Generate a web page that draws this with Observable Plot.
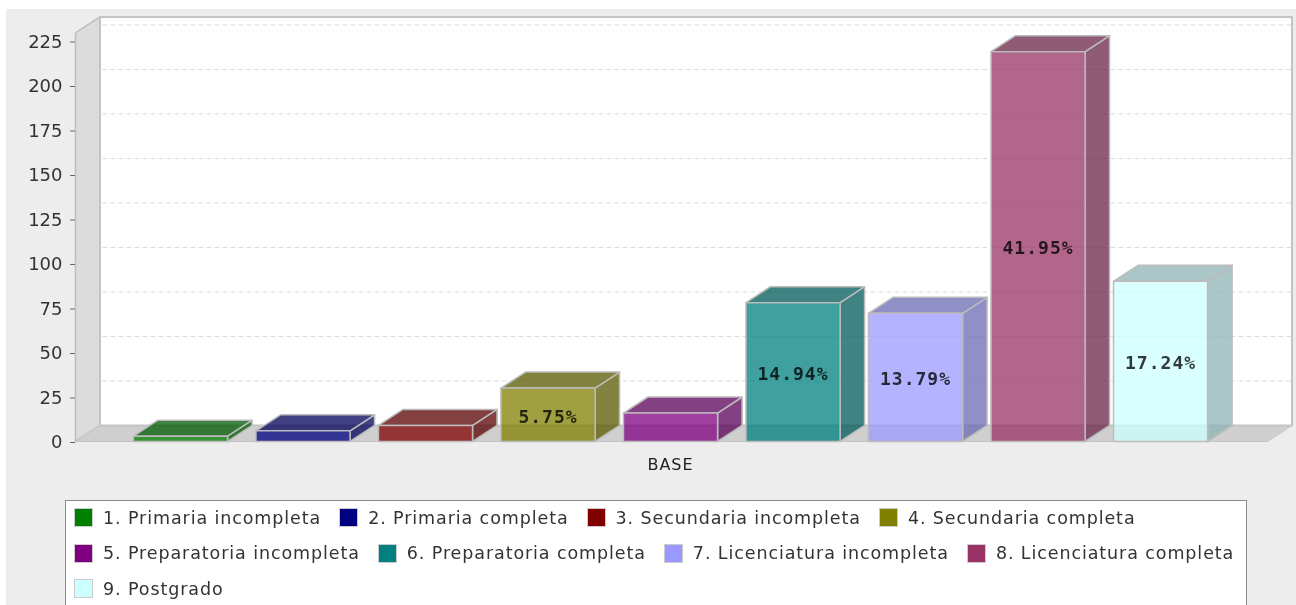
<!DOCTYPE html>
<html>
<head>
<meta charset="utf-8">
<script src="https://cdn.jsdelivr.net/npm/d3@7"></script>
<script src="https://cdn.jsdelivr.net/npm/@observablehq/plot@0.6"></script>
<style>
  html, body { margin: 0; padding: 0; background: #fff; width: 1296px; height: 605px; overflow: hidden; }
  #panel { position: absolute; left: 6px; top: 9px; width: 1290px; height: 596px; background: #ededed; }
  #chart { position: absolute; left: 0; top: 0; filter: blur(0.4px); }
  #legend {
    position: absolute; left: 65px; top: 500px; width: 1182px; height: 130px; box-sizing: border-box;
    background: #fff; border: 1.5px solid #8a8a8a; padding: 7px 0 0 8px;
    display: flex; flex-wrap: wrap; align-content: flex-start; row-gap: 16.5px; column-gap: 18px;
    font: 17.5px "DejaVu Sans", sans-serif; letter-spacing: 0.9px; color: #333; filter: blur(0.4px);
  }
  .item { display: flex; align-items: center; height: 19px; white-space: nowrap; }
  .sw { width: 19px; height: 19px; margin-right: 10px; border: .5px solid #ccc; box-sizing: border-box; }
</style>
</head>
<body>
<div id="panel"></div>
<div id="chart"></div>
<div id="legend"></div>
<script>
const categories = ["1. Primaria incompleta","2. Primaria completa","3. Secundaria incompleta","4. Secundaria completa","5. Preparatoria incompleta","6. Preparatoria completa","7. Licenciatura incompleta","8. Licenciatura completa","9. Postgrado"];
const values = [3, 6, 9, 30, 16, 78, 72, 219, 90];
const percentLabels = ["", "", "", "5.75%", "", "14.94%", "13.79%", "41.95%", "17.24%"];
const colors = ["#008000","#000080","#800000","#808000","#800080","#008080","#9999ff","#993366","#ccffff"];
const yTicks = [0, 25, 50, 75, 100, 125, 150, 175, 200, 225];

// chart-space constants (category units / value units)
const barHalf = 0.384, depthX = 0.2, depthY = 9;
const xMin = -0.857, xMax = 8.873, yTop = 229.5;

const polygon = (id, fill, pts) => pts.map(([x, y]) => ({id, fill, x, y}));
const darker = c => { const r = d3.rgb(c); return d3.rgb(r.r * .7, r.g * .7, r.b * .7).formatHex(); };

const wall = polygon("left", "#dcdcdc", [[xMin,0],[xMin,yTop],[xMin+depthX,yTop+depthY],[xMin+depthX,depthY]]);
const floor = polygon("floor", "#cfcfcf", [[xMin,0],[xMax,0],[xMax+depthX,depthY],[xMin+depthX,depthY]]);
const back = polygon("back", "#ffffff", [[xMin+depthX,depthY],[xMin+depthX,yTop+depthY],[xMax+depthX,yTop+depthY],[xMax+depthX,depthY]]);

const gridLines = yTicks.slice(1).flatMap(t => [
  {t, x: xMin, y: t}, {t, x: xMin+depthX, y: t+depthY}, {t, x: xMax+depthX, y: t+depthY}
]);

const faces = values.flatMap((v, i) => {
  const a = i - barHalf, b = i + barHalf, c = colors[i], d = darker(c);
  return [
    ...polygon(`s${i}`, d, [[b,0],[b+depthX,depthY],[b+depthX,v+depthY],[b,v]]),
    ...polygon(`t${i}`, d, [[a,v],[b,v],[b+depthX,v+depthY],[a+depthX,v+depthY]]),
    ...polygon(`f${i}`, c, [[a,0],[b,0],[b,v],[a,v]])
  ];
});

const labelled = values.map((v, i) => ({i, v, label: percentLabels[i]})).filter(d => d.label);

const face = (data, opts) => Plot.line(data, {x: "x", y: "y", z: "id", fill: "fill", curve: "linear-closed", ...opts});

const plot = Plot.plot({
  width: 1296, height: 490,
  marginLeft: 75, marginRight: 29, marginTop: 40.5, marginBottom: 49,
  style: {background: "transparent", overflow: "visible"},
  x: {domain: [xMin, xMax]},
  y: {domain: [0, 225]},
  color: {type: "identity"},
  marks: [
    face(wall, {stroke: "#bdbdbd", strokeWidth: 1.5}),
    face(floor, {stroke: "#c4c4c4", strokeWidth: 1}),
    face(back, {stroke: "#c4c4c4", strokeWidth: 2}),
    Plot.line(gridLines, {x: "x", y: "y", z: "t", stroke: "#dcdcdc", strokeWidth: 1, strokeDasharray: "4 4"}),
    face(faces, {fillOpacity: 0.75, stroke: "#bcbcbc", strokeWidth: 1.5}),
    Plot.text(labelled, {x: "i", y: d => d.v / 2, text: "label", dy: 2, fontFamily: "DejaVu Sans Mono", fontWeight: "bold", fontSize: 18, fill: "#000", fillOpacity: 0.78, textAnchor: "middle"}),
    Plot.axisY(yTicks, {anchor: "left", label: null, tickSize: 5, tickPadding: 8, fontSize: 18, fontFamily: "DejaVu Sans", color: "#333", stroke: "#666", dy: 1}),
    Plot.axisX([4], {anchor: "bottom", label: null, tickSize: 0, tickPadding: 17, tickFormat: () => "BASE", fontSize: 16, fontFamily: "DejaVu Sans", color: "#222"})
  ]
});
plot.querySelectorAll("text").forEach(t => {
  if (t.textContent === "BASE" || t.textContent.endsWith("%")) t.style.letterSpacing = "1px";
});
document.getElementById("chart").append(plot);

const legend = document.getElementById("legend");
categories.forEach((name, i) => {
  const item = document.createElement("div");
  item.className = "item";
  const sw = document.createElement("span");
  sw.className = "sw";
  sw.style.background = colors[i];
  const txt = document.createElement("span");
  txt.textContent = name;
  item.append(sw, txt);
  legend.append(item);
});
</script>
</body>
</html>
